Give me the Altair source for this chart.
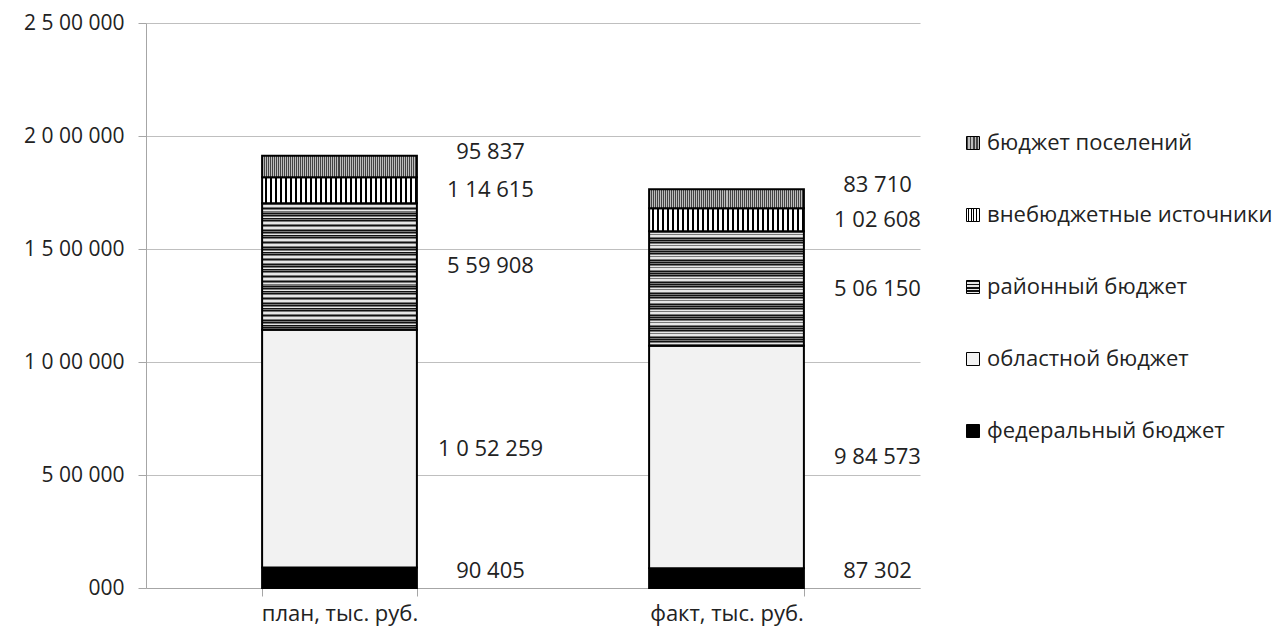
import json
import altair as alt
import pandas as pd

# ---------------- data ----------------
categories = ["план, тыс. руб.", "факт, тыс. руб."]
sources = ["федеральный бюджет", "областной бюджет", "районный бюджет",
           "внебюджетные источники", "бюджет поселений"]
plan_values = [90405, 1052259, 559908, 114615, 95837]
fact_values = [87302, 984573, 506150, 102608, 83710]
y_ticks = [0, 500000, 1000000, 1500000, 2000000, 2500000]


def fmt(v):
    s = str(int(v)).rjust(3, "0")
    parts = [s[-3:]]
    s = s[:-3]
    sizes = [2, 1, 1, 1, 1]
    i = 0
    while s:
        n = sizes[i]
        parts.insert(0, s[-n:])
        s = s[:-n]
        i += 1
    return " ".join(parts)


rows = []
for cat, vals in zip(categories, [plan_values, fact_values]):
    for i, (src, v) in enumerate(zip(sources, vals)):
        rows.append({"cat": cat, "source": src, "order": i, "value": v, "label": fmt(v)})
df = pd.DataFrame(rows)


# ---------------- pattern fills (hard-stop gradients) ----------------
def hard_stops(n, pattern):
    stops = []
    for k in range(n):
        pos = k / n
        for color, frac in pattern:
            end = min(1.0, pos + frac / n)
            stops.append({"offset": round(pos, 5), "color": color})
            stops.append({"offset": round(end, 5), "color": color})
            pos = end
    return stops


def grad(direction, n, pattern):
    return {
        "gradient": "linear",
        "x1": 0, "y1": 0,
        "x2": 1 if direction == "x" else 0,
        "y2": 1 if direction == "y" else 0,
        "stops": hard_stops(n, pattern),
    }


g_district = grad("y", 52, [("#111111", 0.28), ("#e6e6e6", 0.12), ("#777777", 0.42), ("#e6e6e6", 0.18)])
g_extra = grad("x", 31, [("#ffffff", 0.62), ("#000000", 0.38)])
g_settle = grad("x", 78, [("#444444", 0.5), ("#bdbdbd", 0.5)])

legend_order = ["бюджет поселений", "внебюджетные источники", "районный бюджет",
                "областной бюджет", "федеральный бюджет"]
fill_range = [
    {"expr": json.dumps(g_settle)},
    {"expr": json.dumps(g_extra)},
    {"expr": json.dumps(g_district)},
    "#f2f2f2",
    "#000000",
]

label_expr = " : ".join(
    f"datum.value == {t} ? '{fmt(t)}'" for t in y_ticks
) + " : ''"

FONT = "Open Sans"

base = alt.Chart(df).transform_stack(
    stack="value", groupby=["cat"], as_=["y0", "y1"],
    sort=[alt.SortField("order", order="ascending")],
).transform_calculate(mid="(datum.y0 + datum.y1) / 2")

x_enc = alt.X(
    "cat:N", sort=categories, title=None,
    scale=alt.Scale(paddingInner=0.6, paddingOuter=0.3),
    axis=alt.Axis(labelAngle=0, tickBand="extent", tickSize=8, labelPadding=7,
                  labelFontSize=22, labelFont=FONT, labelColor="#222222",
                  domainColor="#a6a6a6", tickColor="#a6a6a6", grid=False),
)

bars = base.mark_bar(stroke="black", strokeWidth=2).encode(
    x=x_enc,
    y=alt.Y("y0:Q", title=None,
            scale=alt.Scale(domain=[0, 2500000], nice=False),
            axis=alt.Axis(values=y_ticks, labelExpr=label_expr, tickSize=8,
                          labelPadding=14, labelFontSize=21, labelFont=FONT,
                          labelColor="#222222", gridColor="#bfbfbf",
                          domainColor="#a6a6a6", tickColor="#a6a6a6")),
    y2="y1:Q",
    fill=alt.Fill("source:N", scale=alt.Scale(domain=legend_order, range=fill_range),
                  legend=alt.Legend(orient="none", legendX=816, legendY=109, title=None,
                                    symbolType="square", symbolSize=169,
                                    symbolStrokeColor="black", symbolStrokeWidth=1,
                                    labelFontSize=22, labelFont=FONT, labelColor="#222222",
                                    labelOffset=3, labelLimit=500, rowPadding=50, padding=0)),
)


def label_layer(filter_expr, dy):
    return base.transform_filter(filter_expr).mark_text(
        dx=151, dy=dy, align="center", baseline="middle",
        fontSize=22, font=FONT, color="#222222",
    ).encode(
        x=alt.X("cat:N", sort=categories),
        y=alt.Y("mid:Q"),
        text="label:N",
    )


labels_top = label_layer("datum.source == 'бюджет поселений'", -14)
labels_bottom = label_layer("datum.source == 'федеральный бюджет'", -7)
labels_mid = label_layer(
    "datum.source != 'бюджет поселений' && datum.source != 'федеральный бюджет'", 0)

chart = alt.layer(bars, labels_top, labels_mid, labels_bottom).properties(
    width=774, height=565,
    autosize=alt.AutoSizeParams(type="none"),
    padding={"left": 138, "top": 15, "right": 358, "bottom": 40},
).configure_view(stroke=None)

chart.save("out.html", embed_options={"renderer": "svg", "actions": False})
